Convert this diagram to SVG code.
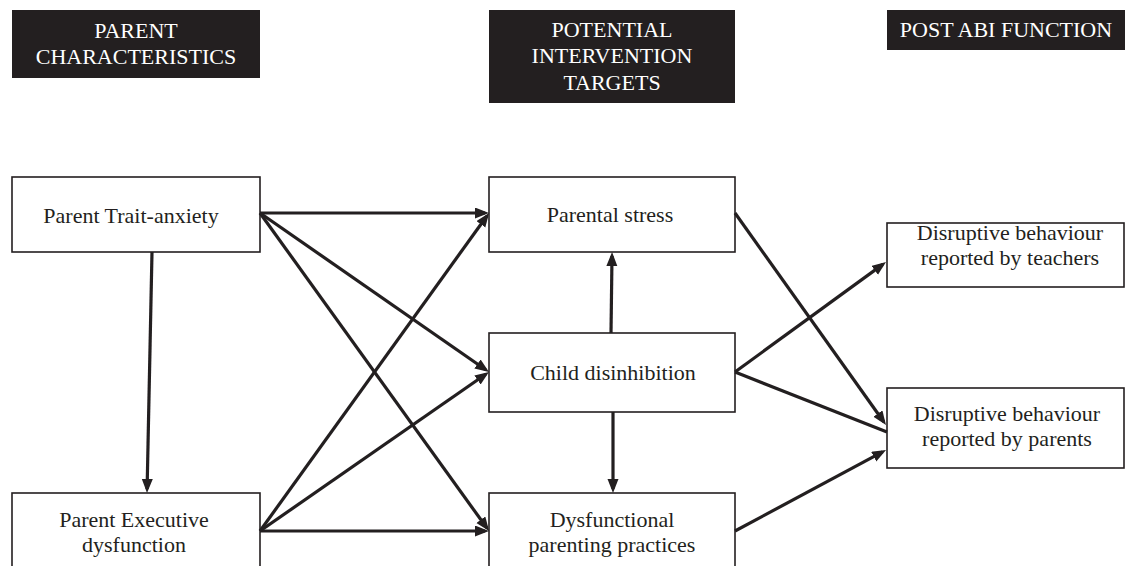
<svg xmlns="http://www.w3.org/2000/svg" width="1125" height="566" viewBox="0 0 1125 566">
<style>
.hdr{fill:#231f20;stroke:none}
.ht{fill:#ffffff;font-family:"Liberation Serif","Times New Roman",serif;font-size:22px;text-anchor:middle}
.box{fill:#ffffff;stroke:#231f20;stroke-width:1.6}
.t{fill:#231f20;font-family:"Liberation Serif","Times New Roman",serif;font-size:22px;text-anchor:middle}
.c{stroke:#231f20;stroke-width:3.2;fill:none}
</style>
<defs>
<marker id="ah" markerUnits="userSpaceOnUse" markerWidth="16" markerHeight="12" refX="10" refY="5.5" orient="auto">
<path d="M0,0 L14,5.5 L0,11 z" fill="#231f20"/>
</marker>
</defs>
<rect width="1125" height="566" fill="#ffffff"/>
<g id="header-parent">
<rect class="hdr" x="12" y="10" width="248" height="68"/>
<text class="ht" x="136" y="38">PARENT</text>
<text class="ht" x="136" y="64">CHARACTERISTICS</text>
</g>
<g id="header-targets">
<rect class="hdr" x="489" y="10" width="246" height="93"/>
<text class="ht" x="612" y="37">POTENTIAL</text>
<text class="ht" x="612" y="63">INTERVENTION</text>
<text class="ht" x="612" y="90">TARGETS</text>
</g>
<g id="header-post">
<rect class="hdr" x="887" y="10" width="238" height="40"/>
<text class="ht" x="1006" y="37">POST ABI FUNCTION</text>
</g>
<g id="node-trait-anxiety">
<rect class="box" x="12" y="177" width="248" height="75"/>
<text class="t" x="131" y="223">Parent Trait-anxiety</text>
</g>
<g id="node-executive">
<rect class="box" x="12" y="493" width="248" height="80"/>
<text class="t" x="134" y="527">Parent Executive</text>
<text class="t" x="134" y="552">dysfunction</text>
</g>
<g id="node-stress">
<rect class="box" x="489" y="177" width="246" height="75"/>
<text class="t" x="610" y="222">Parental stress</text>
</g>
<g id="node-disinhibition">
<rect class="box" x="489" y="333" width="246" height="79"/>
<text class="t" x="613" y="380">Child disinhibition</text>
</g>
<g id="node-dysfunctional">
<rect class="box" x="489" y="493" width="246" height="80"/>
<text class="t" x="612" y="527">Dysfunctional</text>
<text class="t" x="612" y="552">parenting practices</text>
</g>
<g id="node-teachers">
<rect class="box" x="887" y="223" width="237" height="64"/>
<text class="t" x="1010" y="240">Disruptive behaviour</text>
<text class="t" x="1010" y="265">reported by teachers</text>
</g>
<g id="node-parents">
<rect class="box" x="887" y="388" width="237" height="80"/>
<text class="t" x="1007" y="421">Disruptive behaviour</text>
<text class="t" x="1007" y="446">reported by parents</text>
</g>
<g id="connectors">
<line class="c" x1="260" y1="213" x2="485" y2="213" marker-end="url(#ah)"/>
<line class="c" x1="260" y1="213" x2="485.7" y2="369.7" marker-end="url(#ah)"/>
<line class="c" x1="260" y1="213" x2="486.7" y2="527.8" marker-end="url(#ah)"/>
<line class="c" x1="152" y1="252" x2="147.1" y2="489" marker-end="url(#ah)"/>
<line class="c" x1="260" y1="531" x2="486.7" y2="216.2" marker-end="url(#ah)"/>
<line class="c" x1="260" y1="531" x2="485.7" y2="374.3" marker-end="url(#ah)"/>
<line class="c" x1="260" y1="531" x2="485" y2="531" marker-end="url(#ah)"/>
<line class="c" x1="611" y1="333" x2="612" y2="256" marker-end="url(#ah)"/>
<line class="c" x1="613" y1="412" x2="613" y2="489" marker-end="url(#ah)"/>
<line class="c" x1="735" y1="213" x2="883.7" y2="421.7" marker-end="url(#ah)"/>
<line class="c" x1="735" y1="372" x2="882.8" y2="264.4" marker-end="url(#ah)"/>
<line class="c" x1="735" y1="372" x2="887" y2="432"/>
<line class="c" x1="735" y1="531" x2="882.5" y2="451.9" marker-end="url(#ah)"/>
</g>
</svg>
